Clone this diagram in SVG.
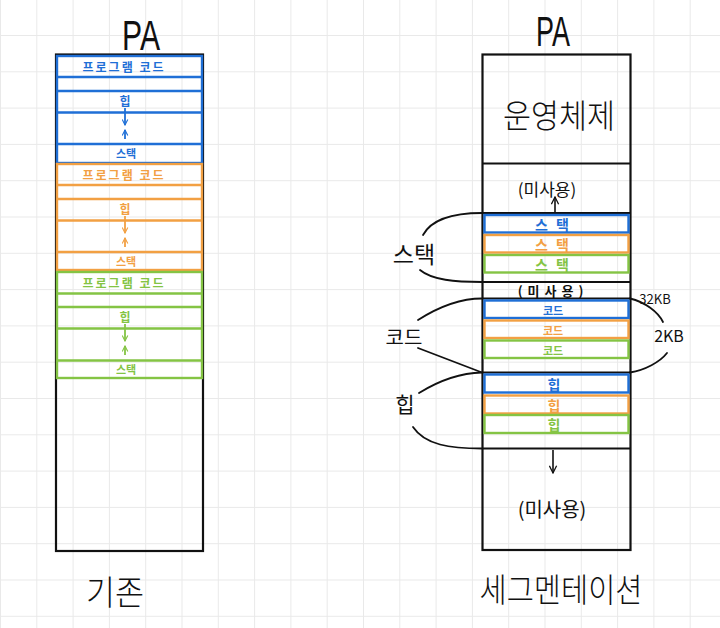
<svg xmlns="http://www.w3.org/2000/svg" width="720" height="628" viewBox="0 0 720 628">
<defs>
<pattern id="grid" x="0" y="-1.3" width="36.3" height="36.3" patternUnits="userSpaceOnUse">
<path d="M0.5,0 V36.3 M0,0.5 H36.3" fill="none" stroke="#e9e9e9" stroke-width="1"/>
</pattern>
<marker id="ah" viewBox="0 0 10 10" refX="9" refY="5" markerWidth="7" markerHeight="7" orient="auto" markerUnits="userSpaceOnUse">
<path d="M1,1 L9,5 L1,9" fill="none" stroke="context-stroke" stroke-width="1.6"/>
</marker>
<marker id="ahb" viewBox="0 0 10 10" refX="9" refY="5" markerWidth="9" markerHeight="9" orient="auto" markerUnits="userSpaceOnUse">
<path d="M1,1 L9,5 L1,9" fill="none" stroke="#111" stroke-width="1.4"/>
</marker>
</defs>
<style>
.k{fill:none;stroke:#111;stroke-width:2.2}
.b{fill:none;stroke:#1f6fd6;stroke-width:2.4}
.o{fill:none;stroke:#f2a043;stroke-width:2.4}
.g{fill:none;stroke:#84c444;stroke-width:2.4}
.bt{fill:#1f6fd6}
.ot{fill:#f2a043}
.gt{fill:#84c444}
.t{font-family:"Noto Sans CJK KR","Noto Sans",sans-serif;text-anchor:middle}
.sm{font-size:12px;font-weight:bold;letter-spacing:2px}
.hd{font-family:"Liberation Sans","Noto Sans CJK KR",sans-serif;font-size:42px;text-anchor:middle;fill:#111}
.lbl{fill:#111}
.lt{font-weight:300}
.c{fill:none;stroke:#111;stroke-width:1.8;stroke-linecap:round}
</style>
<rect width="720" height="628" fill="#ffffff"/>
<rect width="720" height="628" fill="url(#grid)"/>

<!-- Left: 기존 -->
<g id="left-title"><text class="hd" x="141" y="50" textLength="38" lengthAdjust="spacingAndGlyphs">PA</text></g>
<g id="left-memory"><rect class="k" x="56" y="54.5" width="147" height="496.5"/></g>

<g id="left-blue">
<rect class="b" x="57" y="56" width="145" height="107"/>
<path class="b" d="M58,77 H201 M58,91 H201 M58,112.5 H201 M58,144 H201"/>
<text class="t sm bt" x="124" y="72">프로그램 코드</text>
<text class="t bt" x="125" y="106" font-size="12" font-weight="bold">힙</text>
<text class="t bt" x="126" y="158" font-size="11" font-weight="bold">스택</text>
</g>
<g id="left-orange">
<rect class="o" x="57" y="164" width="145" height="106"/>
<path class="o" d="M58,185 H201 M58,199 H201 M58,220.5 H201 M58,252 H201"/>
<text class="t sm ot" x="124" y="180">프로그램 코드</text>
<text class="t ot" x="125" y="214" font-size="12" font-weight="bold">힙</text>
<text class="t ot" x="126" y="266" font-size="11" font-weight="bold">스택</text>
</g>
<g id="left-green">
<rect class="g" x="57" y="272" width="145" height="106"/>
<path class="g" d="M58,293.5 H201 M58,307 H201 M58,328.5 H201 M58,360.5 H201"/>
<text class="t sm gt" x="124" y="288">프로그램 코드</text>
<text class="t gt" x="125" y="322" font-size="12" font-weight="bold">힙</text>
<text class="t gt" x="126" y="374" font-size="11" font-weight="bold">스택</text>
</g>
<g id="left-caption"><text class="t lbl lt" x="115" y="605" font-size="34" textLength="58" lengthAdjust="spacingAndGlyphs">기존</text></g>

<!-- Right: 세그멘테이션 -->
<g id="right-title"><text class="hd" x="553" y="46" textLength="34" lengthAdjust="spacingAndGlyphs">PA</text></g>
<g id="right-memory">
<rect class="k" x="482.5" y="54.5" width="148" height="495.5"/>
<path class="k" d="M482,163.5 H631 M482,213 H631 M482,282 H631 M482,298.5 H631 M482,372.5 H631 M482,448.5 H631"/>
</g>
<g id="os"><text class="t lbl lt" x="559" y="128" font-size="33" textLength="112" lengthAdjust="spacingAndGlyphs">운영체제</text></g>
<g id="unused-top"><text class="t lbl" x="547" y="196" font-size="17">(미사용)</text></g>
<g id="stack-blue"><rect class="b" x="484.5" y="215" width="144" height="17.5"/><text class="t bt" x="556" y="230" font-size="14" font-weight="bold" letter-spacing="8">스택</text></g>
<g id="stack-orange"><rect class="o" x="484.5" y="235" width="144" height="17.5"/><text class="t ot" x="556" y="250" font-size="14" font-weight="bold" letter-spacing="8">스택</text></g>
<g id="stack-green"><rect class="g" x="484.5" y="255" width="144" height="17.5"/><text class="t gt" x="556" y="270" font-size="14" font-weight="bold" letter-spacing="8">스택</text></g>
<g id="unused-mid"><text class="t lbl" x="553" y="296" font-size="13" font-weight="bold" letter-spacing="5">(미사용)</text></g>
<g id="code-blue"><rect class="b" x="484.5" y="300.5" width="144" height="17.5"/><text class="t bt" x="553" y="315" font-size="11" font-weight="bold">코드</text></g>
<g id="code-orange"><rect class="o" x="484.5" y="320.5" width="144" height="17.5"/><text class="t ot" x="553" y="335" font-size="11" font-weight="bold">코드</text></g>
<g id="code-green"><rect class="g" x="484.5" y="340.5" width="144" height="17.5"/><text class="t gt" x="553" y="355" font-size="11" font-weight="bold">코드</text></g>
<g id="heap-blue"><rect class="b" x="484.5" y="374.5" width="144" height="18"/><text class="t bt" x="554" y="390" font-size="14" font-weight="bold">힙</text></g>
<g id="heap-orange"><rect class="o" x="484.5" y="395.5" width="144" height="18"/><text class="t ot" x="554" y="411" font-size="14" font-weight="bold">힙</text></g>
<g id="heap-green"><rect class="g" x="484.5" y="415" width="144" height="18"/><text class="t gt" x="554" y="430" font-size="14" font-weight="bold">힙</text></g>
<g id="unused-bottom"><text class="t lbl" x="552" y="517" font-size="20">(미사용)</text></g>
<g id="right-caption"><text class="t lbl lt" x="561" y="602" font-size="33" textLength="163" lengthAdjust="spacingAndGlyphs">세그멘테이션</text></g>

<g id="label-stack"><text class="t lbl" x="414" y="263" font-size="23">스택</text></g>
<g id="label-code"><text class="t lbl" x="404" y="345" font-size="20">코드</text></g>
<g id="label-heap"><text class="t lbl" x="405" y="412" font-size="21">힙</text></g>
<g id="label-32kb"><text class="t lbl" x="655" y="304" font-size="13" font-family="Liberation Sans, sans-serif">32KB</text></g>
<g id="label-2kb"><text class="t lbl" x="669" y="342" font-size="16" font-family="Liberation Sans, sans-serif">2KB</text></g>

<g id="connectors">
<path d="M125,108 V125" stroke="#1f6fd6" stroke-width="1.8" fill="none" marker-end="url(#ah)"/>
<path d="M125,139 V130" stroke="#1f6fd6" stroke-width="1.8" fill="none" marker-end="url(#ah)"/>
<path d="M125,216 V233" stroke="#f2a043" stroke-width="1.8" fill="none" marker-end="url(#ah)"/>
<path d="M125,247 V238" stroke="#f2a043" stroke-width="1.8" fill="none" marker-end="url(#ah)"/>
<path d="M125,324 V341" stroke="#84c444" stroke-width="1.8" fill="none" marker-end="url(#ah)"/>
<path d="M125,355 V346" stroke="#84c444" stroke-width="1.8" fill="none" marker-end="url(#ah)"/>
<path d="M555,212 V197" stroke="#111" stroke-width="1.6" fill="none" marker-end="url(#ahb)"/>
<path d="M553,450 V473" stroke="#111" stroke-width="1.6" fill="none" marker-end="url(#ahb)"/>
<path class="c" d="M423,235 C430,222 448,213 482,213"/>
<path class="c" d="M420,270 C432,280 455,282 482,282"/>
<path class="c" d="M418,320 C440,306 460,298.5 482,298.5"/>
<path class="c" d="M418,348 L482,372.5"/>
<path class="c" d="M419,393 C440,380 460,373 482,372.5"/>
<path class="c" d="M413,427 C425,445 450,448.5 482,448.5"/>
<path class="c" d="M630,298.5 C645,302 658,312 663,322"/>
<path class="c" d="M667,353 C660,362 645,370 630,372.5"/>
</g>
</svg>
